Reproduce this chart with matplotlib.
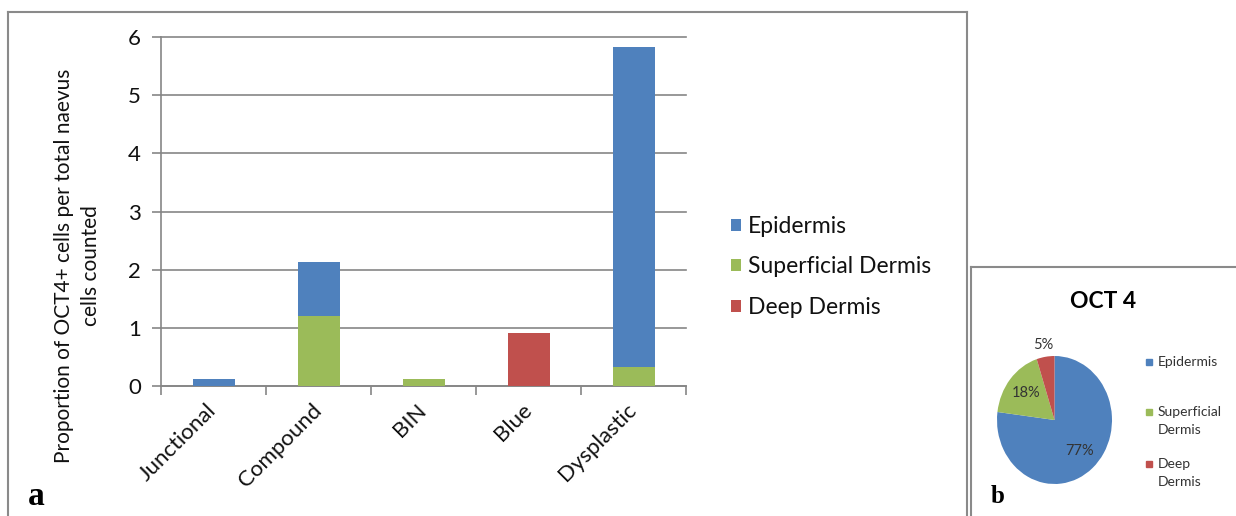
import matplotlib
matplotlib.use("Agg")
import matplotlib.pyplot as plt
from matplotlib.lines import Line2D
from matplotlib.patches import Rectangle
import numpy as np

# Bar chart data (panel a)
categories = ["Junctional", "Compound", "BIN", "Blue", "Dysplastic"]
epidermis = [0.12, 0.93, 0.0, 0.0, 5.50]
superficial = [0.0, 1.20, 0.12, 0.0, 0.32]
deep = [0.0, 0.0, 0.0, 0.91, 0.0]
series_names = ["Epidermis", "Superficial Dermis", "Deep Dermis"]
yticks = [0, 1, 2, 3, 4, 5, 6]
ylabel = "Proportion of OCT4+ cells per total naevus\ncells counted"

# Pie chart data (panel b)
pie_title = "OCT 4"
pie_labels = ["Epidermis", "Superficial\nDermis", "Deep\nDermis"]
pie_values = [77, 18, 5]

colors = ["#4F81BD", "#9BBB59", "#C0504D"]
grid_col = "#868686"
text_col = "#111111"
border_col = "#8a8a8a"

W, H = 1236, 516
plt.rcParams["font.family"] = ["Lato", "DejaVu Sans"]
fig = plt.figure(figsize=(W / 100, H / 100), dpi=100)


def fx(px):
    return px / W


def fy(py):
    return 1 - py / H


# ---- panel borders ----
for xs, ys in [((8, 8), (12, 516)), ((8, 967), (12, 12)), ((967, 967), (12, 516)),
               ((971, 971), (267, 516)), ((971, 1236), (267, 267))]:
    fig.add_artist(Line2D([fx(x) for x in xs], [fy(y) for y in ys],
                          color=border_col, lw=1.5, transform=fig.transFigure))

# ---- panel a: stacked bars ----
ax = fig.add_axes([fx(161), fy(386), (686 - 161) / W, (386 - 37) / H])
x = np.arange(len(categories))
deep_a = np.array(deep)
sup_a = np.array(superficial)
epi_a = np.array(epidermis)
b_deep = ax.bar(x, deep_a, width=0.4, color=colors[2], linewidth=0, zorder=3)
b_sup = ax.bar(x, sup_a, width=0.4, bottom=deep_a, color=colors[1], linewidth=0, zorder=3)
b_epi = ax.bar(x, epi_a, width=0.4, bottom=deep_a + sup_a, color=colors[0], linewidth=0, zorder=3)

ax.set_xlim(-0.5, len(categories) - 0.5)
ax.set_ylim(0, 6)
ax.set_yticks(yticks)
ax.set_yticklabels([str(t) for t in yticks])
ax.yaxis.grid(True, color=grid_col, lw=1.2, zorder=0)
ax.set_axisbelow(True)
for sp in ("top", "right"):
    ax.spines[sp].set_visible(False)
for sp in ("left", "bottom"):
    ax.spines[sp].set_color(grid_col)
    ax.spines[sp].set_linewidth(1.2)
for gl in ax.yaxis.get_gridlines():
    gl.set_clip_on(False)

ax.tick_params(axis="y", direction="out", length=6.5, width=1.2, color=grid_col,
               labelsize=16, labelcolor=text_col, pad=8)
ax.set_xticks(x)
ax.set_xticks(np.arange(-0.5, len(categories)), minor=True)
ax.tick_params(axis="x", which="major", length=0, labelsize=16, labelcolor=text_col, pad=15)
ax.tick_params(axis="x", which="minor", direction="out", length=6.5, width=1.2, color=grid_col)
ax.set_xticklabels(categories, rotation=45, ha="right", va="center", rotation_mode="anchor")

fig.text(fx(77.5), fy(266), ylabel, rotation=90, ha="center", va="center",
         multialignment="center", fontsize=15, linespacing=1.45, color=text_col)

ax.legend([b_epi, b_sup, b_deep], series_names, loc="upper left",
          bbox_to_anchor=(fx(731), fy(216)), bbox_transform=fig.transFigure,
          frameon=False, fontsize=16.5, handlelength=0.45, handleheight=0.45,
          handletextpad=0.3, labelspacing=0.85, borderpad=0, borderaxespad=0,
          labelcolor=text_col)

fig.text(fx(28), fy(505), "a", family="Liberation Serif", weight="bold",
         fontsize=24, va="baseline", ha="left", color="black")

# ---- panel b: pie ----
pax = fig.add_axes([fx(997), fy(484), 115 / W, 128 / H])
wedges, _, autotexts = pax.pie(pie_values, colors=colors, startangle=90, counterclock=False,
                               autopct="%1.0f%%", pctdistance=0.65,
                               textprops=dict(fontsize=10.5, color="#333333"))
pax.set_aspect("auto")
pax.set_xlim(-1, 1)
pax.set_ylim(-1, 1)
# small slice label sits outside the wedge
w = wedges[2]
mid = np.deg2rad((w.theta1 + w.theta2) / 2)
autotexts[2].set_position((1.2 * np.cos(mid), 1.18 * np.sin(mid)))

fig.text(fx(1103), fy(301), pie_title, ha="center", va="center", fontsize=16.5,
         weight="bold", color="black")

leg_y = [362, 412, 464]
for lab, col, yy in zip(pie_labels, colors, leg_y):
    fig.add_artist(Rectangle((fx(1146), fy(yy + 3)), 6 / W, 6 / H, color=col,
                             transform=fig.transFigure))
    fig.text(fx(1158), fy(yy - 6), lab, ha="left", va="top", fontsize=10,
             linespacing=1.55, color="#333333")

fig.text(fx(991), fy(503), "b", family="Liberation Serif", weight="bold",
         fontsize=18, va="baseline", ha="left", color="black")

fig.savefig("out.png", dpi=100)
